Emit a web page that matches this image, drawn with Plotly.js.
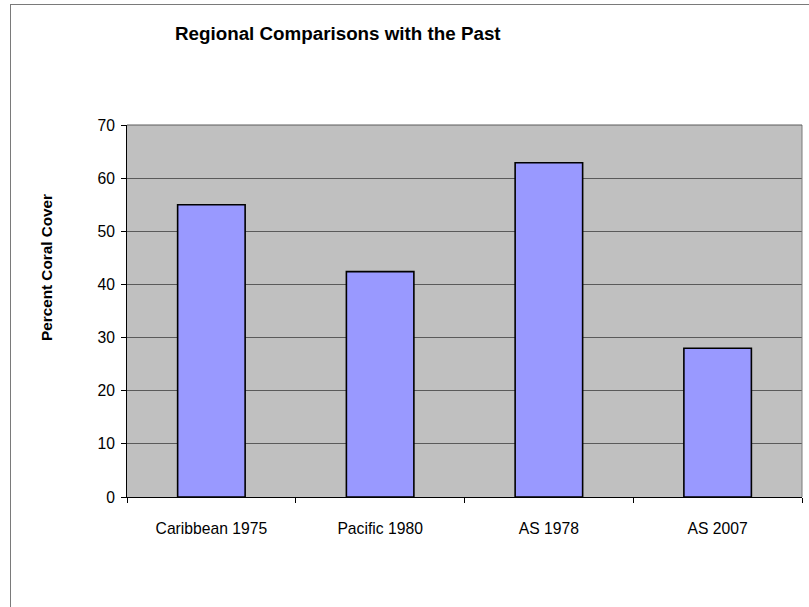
<!DOCTYPE html>
<html>
<head>
<meta charset="utf-8">
<script src="https://cdn.plot.ly/plotly-3.0.1.min.js"></script>
<style>
  html, body { margin: 0; padding: 0; background: #ffffff; }
  #wrap { position: relative; width: 809px; height: 607px; overflow: hidden; }
  #chart { position: absolute; left: 0; top: 0; width: 809px; height: 607px; }
  #frame { position: absolute; left: 10px; top: 4px; width: 820px; height: 620px;
           border-left: 1px solid #7a7a7a; border-top: 1px solid #7a7a7a; pointer-events: none; }
</style>
</head>
<body>
<div id="wrap">
  <div id="chart"></div>
  <div id="frame"></div>
</div>
<script>
const categories = ["Caribbean 1975", "Pacific 1980", "AS 1978", "AS 2007"];
const coralCover = [55, 42.4, 62.9, 28];
const yTicks = [0, 10, 20, 30, 40, 50, 60, 70];
const chartTitle = "Regional Comparisons with the Past";
const yTitle = "Percent Coral Cover";

const trace = {
  type: "bar",
  x: categories,
  y: coralCover,
  marker: { color: "#9999FF", line: { color: "#000000", width: 1.6 } },
  hoverinfo: "x+y"
};

const layout = {
  width: 809,
  height: 607,
  margin: { l: 127, r: 7, t: 125, b: 110, pad: 0 },
  paper_bgcolor: "#ffffff",
  plot_bgcolor: "#C0C0C0",
  bargap: 0.6,
  showlegend: false,
  font: { family: "Liberation Sans, Arial, sans-serif", color: "#000000" },
  xaxis: {
    type: "category",
    tickson: "boundaries",
    ticks: "outside",
    ticklen: 5,
    tickcolor: "#000000",
    tickwidth: 1,
    showline: true,
    linecolor: "#000000",
    linewidth: 1,
    showgrid: false,
    zeroline: false,
    tickfont: { size: 15.7, color: "#000000" },
    ticklabelstandoff: 17,
    fixedrange: true
  },
  yaxis: {
    range: [0, 70],
    tickvals: yTicks,
    ticktext: yTicks.map(String),
    ticks: "outside",
    ticklen: 5,
    tickcolor: "#000000",
    tickwidth: 1,
    showline: true,
    linecolor: "#000000",
    linewidth: 1,
    showgrid: true,
    gridcolor: "#5a5a5a",
    gridwidth: 1,
    zeroline: false,
    tickfont: { size: 15.7, color: "#000000" },
    ticklabelstandoff: 3,
    fixedrange: true
  },
  shapes: [
    { type: "line", xref: "paper", yref: "paper", x0: 1, x1: 1, y0: 0, y1: 1,
      line: { color: "#7a7a7a", width: 1 } },
    { type: "line", xref: "paper", yref: "paper", x0: 0, x1: 1, y0: 1, y1: 1,
      line: { color: "#5a5a5a", width: 1 } }
  ],
  annotations: [
    { text: "<b>" + chartTitle + "</b>", xref: "paper", yref: "paper",
      x: (338 - 127) / 675, y: 1 + (125 - 33) / 372, xanchor: "center", yanchor: "middle",
      showarrow: false, font: { size: 18.8, color: "#000000" } },
    { text: "<b>" + yTitle + "</b>", xref: "paper", yref: "paper",
      x: (46 - 127) / 675, y: (497 - 268) / 372, xanchor: "center", yanchor: "middle",
      textangle: -90, showarrow: false, font: { size: 15.3, color: "#000000" } }
  ]
};

Plotly.newPlot("chart", [trace], layout, { displayModeBar: false, staticPlot: true });
</script>
</body>
</html>
